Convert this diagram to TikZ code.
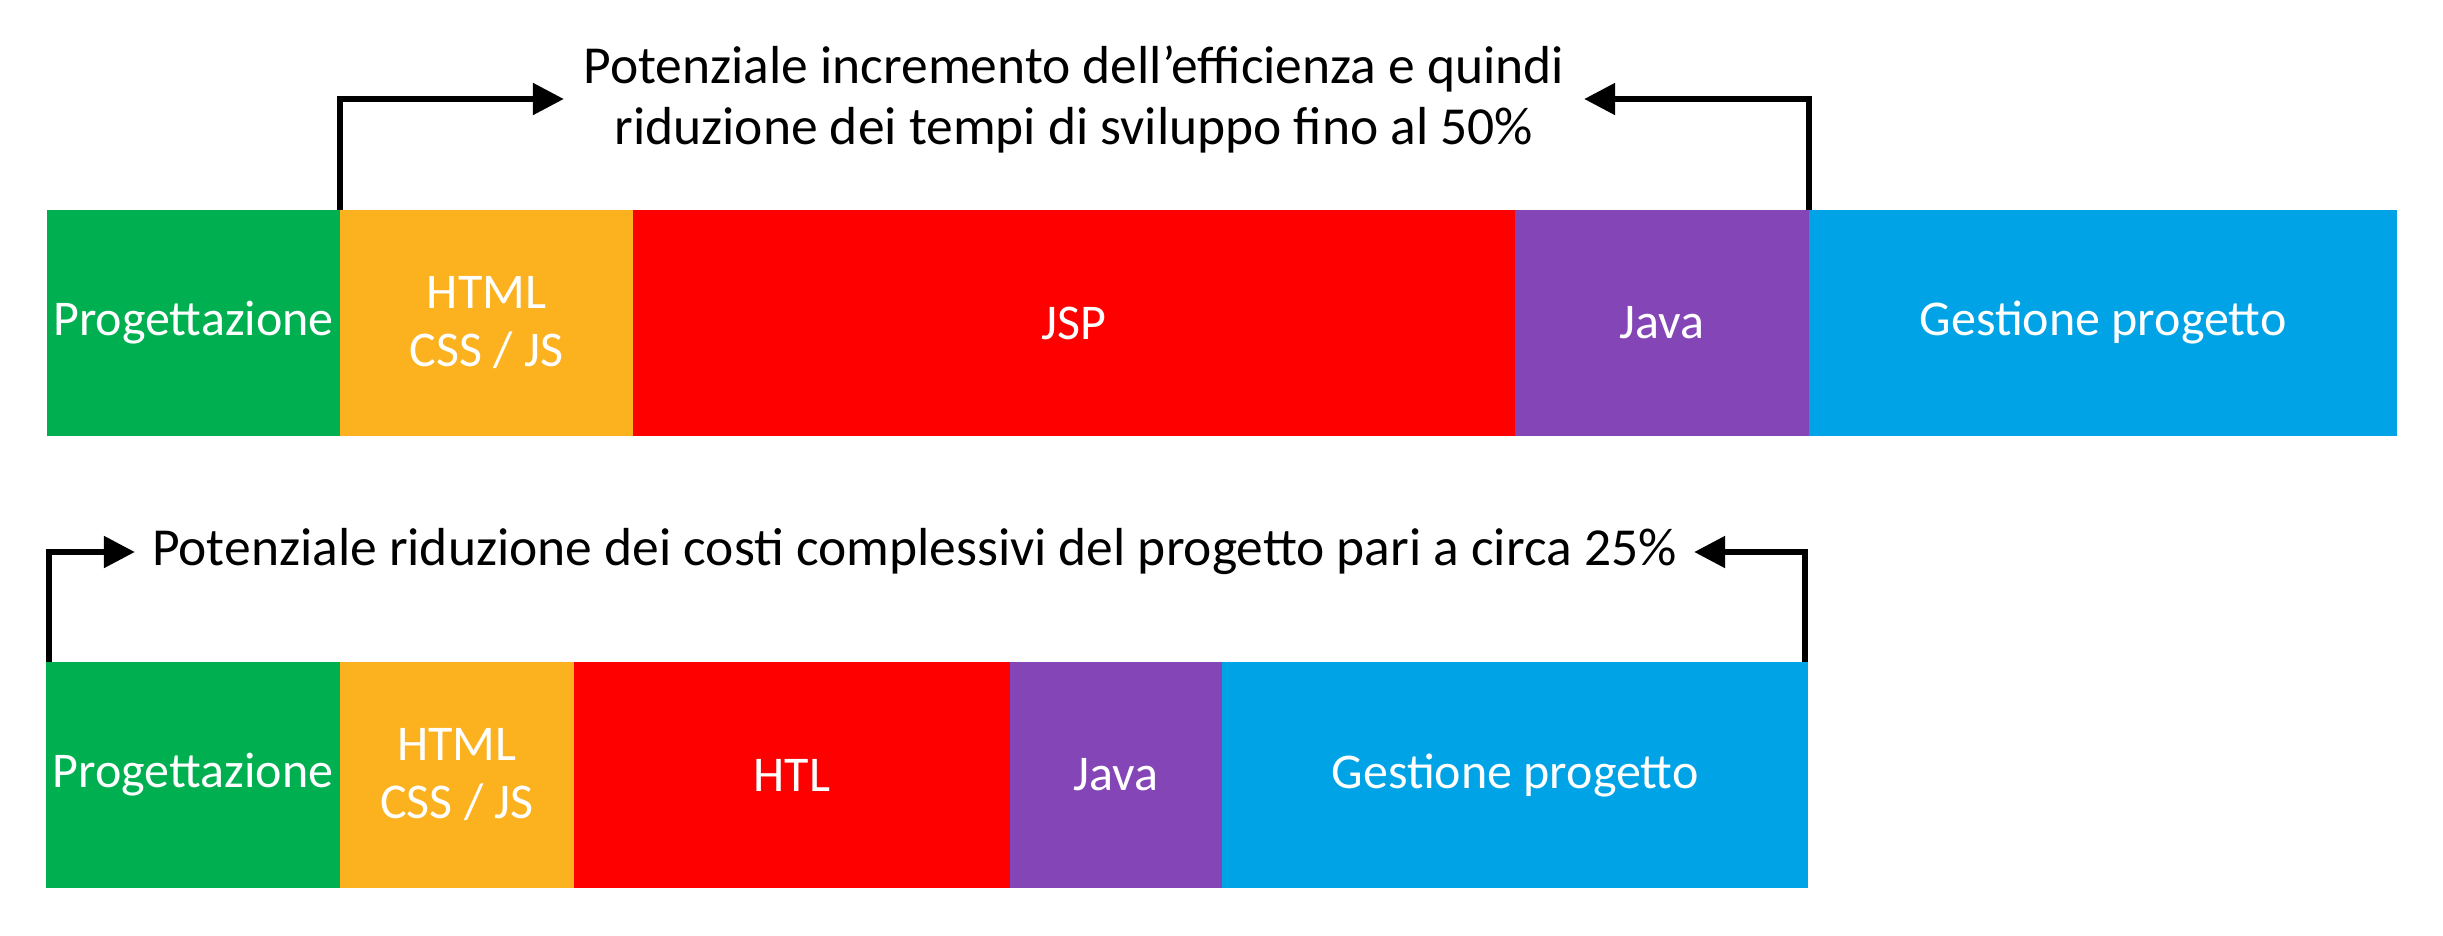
\documentclass[tikz,border=0pt]{standalone}
\usepackage{fontspec}
\setmainfont{Carlito}
\usetikzlibrary{arrows.meta,positioning}
\definecolor{cgreen}{HTML}{00B050}
\definecolor{corange}{HTML}{FCB11F}
\definecolor{cred}{HTML}{FF0000}
\definecolor{cpurple}{HTML}{8445B6}
\definecolor{cblue}{HTML}{00A3E5}
\tikzset{
  seg/.style={rectangle, inner sep=0pt, minimum height=226pt, text=white, align=center,
    font=\fontsize{50}{58}\selectfont},
  lbl/.style={inner sep=0pt, align=center, text=black, font=\fontsize{53.5}{61}\selectfont},
  arr/.style={line width=5.5pt, line join=miter, -{Triangle[length=31pt,width=31pt]}}
}
\begin{document}
\begin{tikzpicture}[x=1pt,y=-1pt]
\useasboundingbox (0,0) rectangle (2443,935);
% top bar
\node[seg, fill=cgreen,  minimum width=293pt] (prog1) at (193.5,323) {Progettazione};
\node[seg, fill=corange, minimum width=293pt] (html1) at (486.5,323) {HTML\\CSS / JS};
\node[seg, fill=cred,    minimum width=882pt] (jsp1)  at (1074,323) {JSP};
\node[seg, fill=cpurple, minimum width=294pt] (java1) at (1662,323) {Java};
\node[seg, fill=cblue,   minimum width=588pt] (gest1) at (2103,323) {Gestione progetto};
% bottom bar
\node[seg, fill=cgreen,  minimum width=294pt] (prog2) at (193,775) {Progettazione};
\node[seg, fill=corange, minimum width=234pt] (html2) at (457,775) {HTML\\CSS / JS};
\node[seg, fill=cred,    minimum width=436pt] (htl2)  at (792,775) {HTL};
\node[seg, fill=cpurple, minimum width=212pt] (java2) at (1116,775) {Java};
\node[seg, fill=cblue,   minimum width=586pt] (gest2) at (1515,775) {Gestione progetto};
% texts
\node[lbl, minimum width=1020pt] (toptext) at (1074,99) {Potenziale incremento dell’efficienza e quindi\\riduzione dei tempi di sviluppo fino al 50\%};
\node[lbl, minimum width=1559pt] (bottext) at (914.5,552) {Potenziale riduzione dei costi complessivi del progetto pari a circa 25\%};
% arrows
\draw[arr] (prog1.north east) |- (toptext.west);
\draw[arr] (java1.north east) |- (toptext.east);
\draw[arr] ([xshift=3pt]prog2.north west) |- (bottext.west);
\draw[arr] ([xshift=-3pt]gest2.north east) |- (bottext.east);
\end{tikzpicture}
\end{document}
